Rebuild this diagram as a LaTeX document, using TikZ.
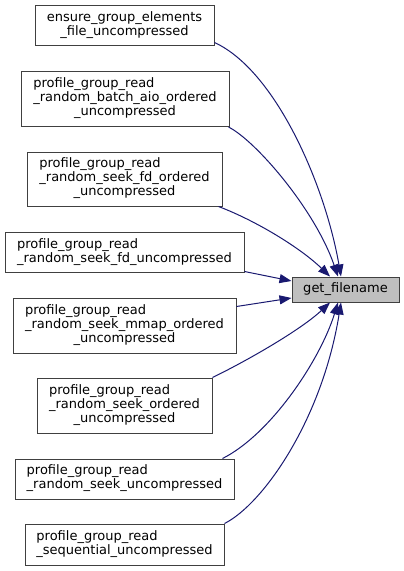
\documentclass[tikz,border=0pt]{standalone}
\usepackage{fontspec}
\setmainfont{DejaVu Sans}
\usetikzlibrary{arrows.meta,calc}
\definecolor{edgeblue}{HTML}{191970}
\definecolor{boxborder}{HTML}{404040}
\definecolor{hilite}{HTML}{BFBFBF}
\tikzset{
  fnbox/.style={draw=boxborder, fill=white, line width=1pt, inner xsep=0pt, inner ysep=0pt,
    font=\fontsize{13}{14}\selectfont, anchor=center},
  rootbox/.style={fnbox, fill=hilite},
  calledge/.style={draw=edgeblue, line width=1pt, -{Triangle[length=12pt,width=9pt]}}
}
\newcommand{\twol}[2]{\begin{tabular}{@{}l@{}}#1\\\multicolumn{1}{@{}c@{}}{#2}\end{tabular}}
\newcommand{\threel}[3]{\begin{tabular}{@{}l@{}}#1\\#2\\\multicolumn{1}{@{}c@{}}{#3}\end{tabular}}
\begin{document}
\begin{tikzpicture}[x=1pt,y=-1pt]
\useasboundingbox (0,0) rectangle (404,571);
\node[fnbox, minimum width=179pt, minimum height=40pt] (n1) at (124.5,25.5)
  {\twol{ensure\_group\_elements}{\_file\_uncompressed}};
\node[fnbox, minimum width=208pt, minimum height=55pt] (n2) at (125,99)
  {\threel{profile\_group\_read}{\_random\_batch\_aio\_ordered}{\_uncompressed}};
\node[fnbox, minimum width=195pt, minimum height=54pt] (n3) at (124.5,179)
  {\threel{profile\_group\_read}{\_random\_seek\_fd\_ordered}{\_uncompressed}};
\node[fnbox, minimum width=239pt, minimum height=40pt] (n4) at (124.5,252.5)
  {\twol{profile\_group\_read}{\_random\_seek\_fd\_uncompressed}};
\node[fnbox, minimum width=223pt, minimum height=55pt] (n5) at (124.5,325.5)
  {\threel{profile\_group\_read}{\_random\_seek\_mmap\_ordered}{\_uncompressed}};
\node[fnbox, minimum width=175pt, minimum height=55pt] (n6) at (124.5,405.5)
  {\threel{profile\_group\_read}{\_random\_seek\_ordered}{\_uncompressed}};
\node[fnbox, minimum width=219pt, minimum height=40pt] (n7) at (124.5,479)
  {\twol{profile\_group\_read}{\_random\_seek\_uncompressed}};
\node[fnbox, minimum width=199pt, minimum height=41pt] (n8) at (124.5,544.5)
  {\twol{profile\_group\_read}{\_sequential\_uncompressed}};
\node[rootbox, minimum width=107pt, minimum height=25pt] (gf) at (345.5,289.5) {get\_filename};

\draw[calledge] ($(n1.south east)+(0,-3.5)$) .. controls +(61,28) and +(-16,-92) .. ($(gf.north)+(-4.5,0)$);
\draw[calledge] ($(n2.south east)+(-1,0)$) .. controls +(27,13.5) and +(-23,-67) .. ($(gf.north)+(-7.5,0)$);
\draw[calledge] ($(n3.south east)+(-4,0)$) .. controls +(37,14) and +(-30,-29) .. ($(gf.north)+(-15.5,0)$);
\draw[calledge] ($(n4.south east)+(0,-1.5)$) -- ($(gf.west)+(0,-8.5)$);
\draw[calledge] ($(n5.north east)+(0,9)$) -- ($(gf.west)+(0,8.5)$);
\draw[calledge] (n6.north east) .. controls +(33,-16) and +(-30,28) .. ($(gf.south)+(-15.5,0)$);
\draw[calledge] ($(n7.north east)+(-12,0)$) .. controls +(48,-24) and +(-18,58) .. ($(gf.south)+(-7.5,0)$);
\draw[calledge] (n8.north east) .. controls +(38,-19) and +(-19,118) .. ($(gf.south)+(-4.5,0)$);
\end{tikzpicture}
\end{document}
